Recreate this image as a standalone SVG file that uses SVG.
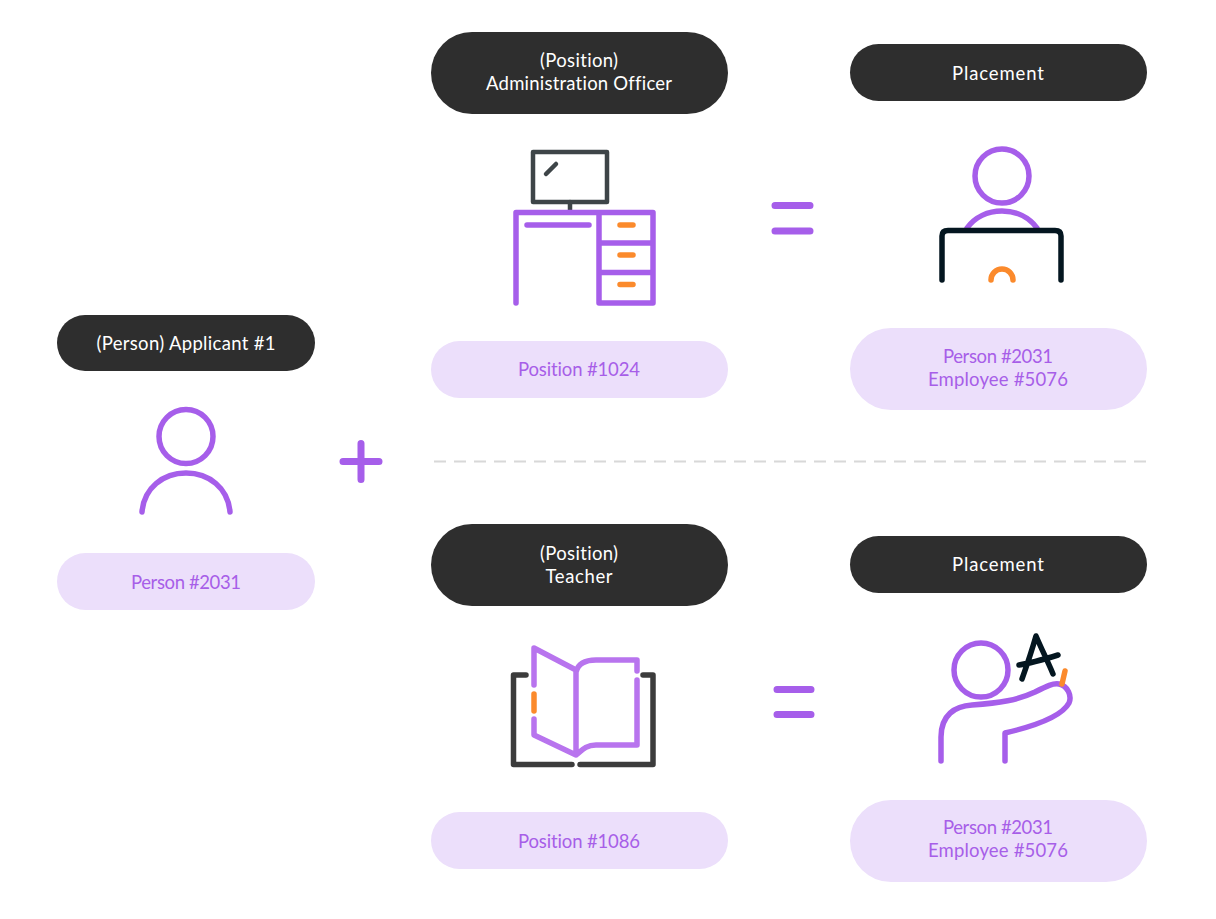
<svg xmlns="http://www.w3.org/2000/svg" width="1216" height="919" viewBox="0 0 1216 919">
<style>
text{font-family:"Lato","Liberation Sans",sans-serif;font-size:18.5px;text-anchor:middle;font-variant-ligatures:none}
.d{fill:#2e2e2e}.l{fill:#ecdffb}
.dt{fill:#fff}.lt{fill:#a75ee8}
.i{fill:none;stroke-linecap:round;stroke-linejoin:round}
.p{stroke:#a65eea;stroke-width:5.500}
.pl{stroke:#b874ee;stroke-width:5.500}
.o{stroke:#fb8a2c;stroke-width:5.500}
.g{stroke:#3e4548;stroke-width:4.500}
.b{stroke:#041620;stroke-width:5.500}
.k{stroke:#3c3c3c;stroke-width:5.500}
.e{stroke:#a65eea;stroke-width:7}
</style>
<rect width="1216" height="919" fill="#fff"/>
<g id="connectors">
<path d="M434 461.500H1147" fill="none" stroke="#d8d8d8" stroke-width="2" stroke-dasharray="12 8"/>
</g>
<g id="applicant">
<rect class="d" x="57" y="315" width="258" height="56" rx="28"/>
<text class="dt" x="186" y="350" textLength="179">(Person) Applicant #1</text>
<circle class="i p" cx="186" cy="436.500" r="27"/>
<path class="i p" d="M142 512C144 488 163 473 186 473S228 488 230 512"/>
<rect class="l" x="57" y="553" width="258" height="57" rx="28.500"/>
<text class="lt" x="186" y="589" textLength="110">Person #2031</text>
</g>
<g id="plus"><path class="i e" d="M343 461.500H379M361 443.500V479.500"/></g>
<g id="position-admin">
<rect class="d" x="431" y="32" width="297" height="82" rx="41"/>
<text class="dt" x="579" y="67" textLength="78">(Position)</text>
<text class="dt" x="579" y="90" textLength="186">Administration Officer</text>
<rect class="i g" x="533" y="152" width="74" height="50"/>
<path class="i g" d="M546 174L556 164M570 202V211"/>
<path class="i p" d="M516 303V212.500H653V303H599V212.500M599 243H653M599 272.500H653M527 225H589"/>
<path class="i o" d="M620 225H633M620 255H633M620 284.500H633"/>
<rect class="l" x="431" y="341" width="297" height="57" rx="28.500"/>
<text class="lt" x="579" y="376" textLength="122">Position #1024</text>
</g>
<g id="equals-1"><path class="i e" d="M775 205.500H810M775 231H810"/></g>
<g id="placement-1">
<rect class="d" x="850" y="44" width="297" height="57" rx="28.500"/>
<text class="dt" x="998" y="80" textLength="92">Placement</text>
<circle class="i p" cx="1002" cy="176" r="27"/>
<path class="i p" d="M967 228C975 217 988 211 1002 211S1029 217 1037 228"/>
<path class="i b" d="M942 280V236Q942 230.500 948 230.500H1055Q1061 230.500 1061 236V280"/>
<path class="i o" d="M991 280A11 11 0 0 1 1013 280"/>
<rect class="l" x="850" y="328" width="297" height="82" rx="41"/>
<text class="lt" x="998" y="363" textLength="110">Person #2031</text>
<text class="lt" x="998" y="386" textLength="140">Employee #5076</text>
</g>
<g id="position-teacher">
<rect class="d" x="431" y="524" width="297" height="82" rx="41"/>
<text class="dt" x="579" y="560" textLength="78">(Position)</text>
<text class="dt" x="579" y="583" textLength="67">Teacher</text>
<path class="i k" d="M526 675H513.500V764.500H572M580 764.500H653V675H643"/>
<path class="i pl" d="M534 685V648L576 670V755M534 719V735L576 755C582 750 586 745 596 745H637V680M637 671V660H596C584 660 578 664 576 672"/>
<path class="i o" d="M534 694V711"/>
<rect class="l" x="431" y="812" width="297" height="57" rx="28.500"/>
<text class="lt" x="579" y="848" textLength="122">Position #1086</text>
</g>
<g id="equals-2"><path class="i e" d="M777 689.500H811M777 714.500H811"/></g>
<g id="placement-2">
<rect class="d" x="850" y="536" width="297" height="57" rx="28.500"/>
<text class="dt" x="998" y="571" textLength="92">Placement</text>
<circle class="i p" cx="981" cy="670" r="27"/>
<path class="i p" d="M941 761V737C941 715 955 706 972 705C1000 703 1018 700 1035 692C1047 686 1053 683 1059 684C1068 686 1072 696 1069 703C1062 716 1035 726 1005 733V761"/>
<path class="i o" d="M1065 671L1062 684"/>
<path class="i b" d="M1022 679C1027 665 1032 650 1036 636C1042 650 1048 662 1053 674M1019 665C1032 663 1045 659 1058 655"/>
<rect class="l" x="850" y="800" width="297" height="82" rx="41"/>
<text class="lt" x="998" y="834" textLength="110">Person #2031</text>
<text class="lt" x="998" y="857" textLength="140">Employee #5076</text>
</g>
</svg>
